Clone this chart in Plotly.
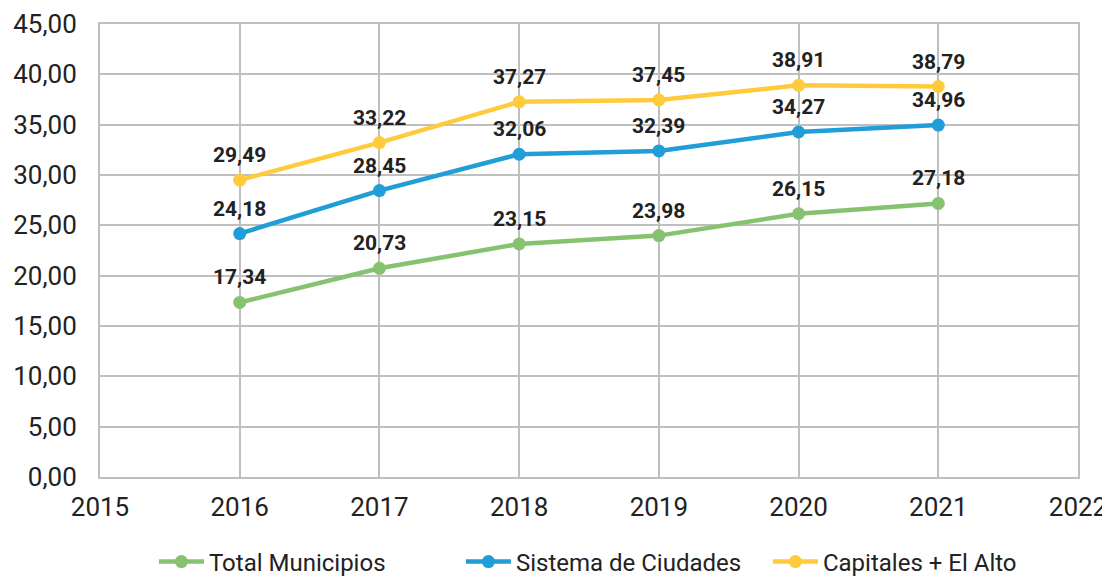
import plotly.graph_objects as go

years = [2016, 2017, 2018, 2019, 2020, 2021]
total_municipios = [17.34, 20.73, 23.15, 23.98, 26.15, 27.18]
sistema_ciudades = [24.18, 28.45, 32.06, 32.39, 34.27, 34.96]
capitales_el_alto = [29.49, 33.22, 37.27, 37.45, 38.91, 38.79]

series = [
    ("Total Municipios", total_municipios, "rgb(134,194,112)"),
    ("Sistema de Ciudades", sistema_ciudades, "rgb(33,157,216)"),
    ("Capitales + El Alto", capitales_el_alto, "rgb(255,202,60)"),
]

fig = go.Figure()
for name, vals, color in series:
    fig.add_trace(
        go.Scatter(
            x=years,
            y=vals,
            name=name,
            mode="lines+markers",
            line=dict(color=color, width=4.5),
            marker=dict(color=color, size=13),
        )
    )
    # etiquetas de datos sobre cada punto
    for x, v in zip(years, vals):
        fig.add_annotation(
            x=x, y=v, text=f"<b>{v:.2f}</b>".replace(".", ","),
            showarrow=False, yshift=25,
            font=dict(family="Roboto", size=21, color="#222222"),
        )

# la página deja 8px de margen en el body: se descuentan aquí
fig.update_layout(
    width=1102,
    height=568,
    separators=",.",
    plot_bgcolor="white",
    paper_bgcolor="white",
    margin=dict(l=92, r=32, t=16, b=99, autoexpand=False),
    font=dict(family="Roboto", size=26, color="#222222"),
    legend=dict(
        orientation="h",
        x=0.526, xanchor="center",
        y=-0.138, yanchor="top",
        font=dict(size=24),
        itemwidth=45,
        entrywidth=247,
    ),
    xaxis=dict(
        range=[2015, 2022], dtick=1, tickformat="d",
        showgrid=True, gridcolor="#BFBFBF", gridwidth=1.5,
        showline=True, linecolor="#BFBFBF", linewidth=2, mirror=True,
        zeroline=False, ticks="", automargin=False, ticklabelstandoff=6,
    ),
    yaxis=dict(
        range=[0, 45], dtick=5, tickformat=".2f",
        showgrid=True, gridcolor="#BFBFBF", gridwidth=1.5,
        showline=True, linecolor="#BFBFBF", linewidth=2, mirror=True,
        zeroline=False, ticks="", automargin=False, ticklabelstandoff=16,
    ),
)

fig.write_html("out.html")
